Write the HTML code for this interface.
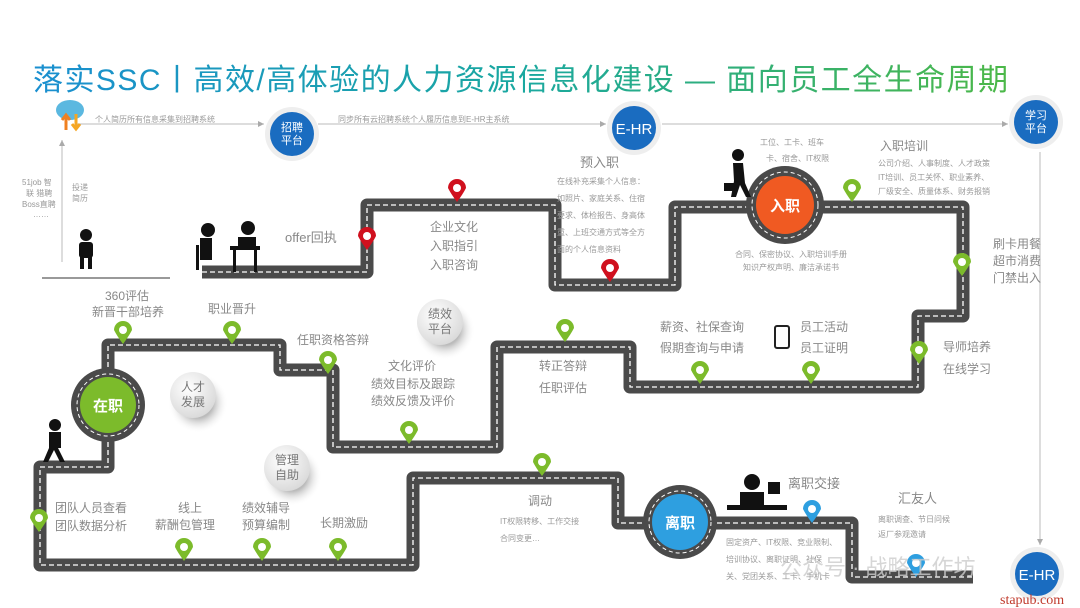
<!DOCTYPE html>
<html><head><meta charset="utf-8"><style>
body{margin:0;background:#fff;}
svg{display:block;font-family:"Liberation Sans","Noto Sans CJK SC",sans-serif;}
.t{fill:#888;font-size:12px;}
.s{fill:#999;font-size:8px;}
</style></head><body>
<svg width="1080" height="608" viewBox="0 0 1080 608">
<defs>
<linearGradient id="tg" x1="0" x2="1"><stop offset="0" stop-color="#1a8fd0"/><stop offset="0.5" stop-color="#1aa8a0"/><stop offset="1" stop-color="#4cb848"/></linearGradient>
<radialGradient id="gb" cx="0.4" cy="0.35" r="0.7"><stop offset="0" stop-color="#fff"/><stop offset="1" stop-color="#d8d8d8"/></radialGradient>
<radialGradient id="sh"><stop offset="0.5" stop-color="#bbb"/><stop offset="1" stop-color="#fff" stop-opacity="0"/></radialGradient>
<marker id="ar" markerWidth="8" markerHeight="8" refX="6" refY="3" orient="auto"><path d="M0,0L6,3L0,6z" fill="#aaa"/></marker>
<g id="pin"><path d="M-9,0A9,9 0 1 1 9,0Q6,6 0,14Q-6,6 -9,0z"/><circle r="4" fill="#fff"/></g>
</defs>
<text x="33" y="90" font-size="30" fill="url(#tg)" textLength="975">落实SSC丨高效/高体验的人力资源信息化建设 — 面向员工全生命周期</text>

<!-- top lines -->
<g stroke="#bbb" stroke-width="1" fill="none">
<line x1="75" y1="124" x2="264" y2="124" marker-end="url(#ar)"/>
<line x1="318" y1="124" x2="606" y2="124" marker-end="url(#ar)"/>
<line x1="662" y1="124" x2="1008" y2="124" marker-end="url(#ar)"/>
<line x1="1040" y1="152" x2="1040" y2="545" marker-end="url(#ar)"/>
<line x1="62" y1="262" x2="62" y2="140" marker-end="url(#ar)"/>
</g>
<line x1="42" y1="278" x2="170" y2="278" stroke="#999" stroke-width="2"/>
<!-- cloud -->
<ellipse cx="70" cy="110" rx="14" ry="10" fill="#5bb8e0"/>
<path d="M66,116v14M62,120l4,-5l4,5" stroke="#f08020" stroke-width="3" fill="none"/>
<path d="M76,114v14M72,124l4,5l4,-5" stroke="#f5a623" stroke-width="3" fill="none"/>
<text class="s" x="95" y="122">个人简历所有信息采集到招聘系统</text>
<text class="s" x="338" y="122">同步所有云招聘系统个人履历信息到E-HR主系统</text>
<text class="s" x="22" y="185">51job 智</text><text class="s" x="26" y="196">联 猎聘</text><text class="s" x="22" y="207">Boss直聘</text><text class="s" x="33" y="217">……</text>
<text class="s" x="72" y="190">投递</text><text class="s" x="72" y="201">简历</text>

<!-- roads -->
<g fill="none" stroke-linejoin="round" stroke-linecap="round">
<path id="r1" d="M202,272H367V205H555V285H675V207H963V316H918V387H630V347H497V447H333V370H280V345H108V467H40V565H413V478H618V523H852V577H973"/>
</g>
<use href="#r1" stroke="#4a4a4a" stroke-width="13" fill="none" stroke-linejoin="round"/>
<use href="#r1" stroke="#fff" stroke-width="1.3" stroke-dasharray="5 3" fill="none"/>

<!-- big circles -->
<g>
<circle cx="108" cy="405" r="37" fill="#4a4a4a"/><circle cx="108" cy="405" r="31" fill="none" stroke="#fff" stroke-width="1" stroke-dasharray="4 3"/><circle cx="108" cy="405" r="28" fill="#7cbb2b"/>
<text x="108" y="411" text-anchor="middle" fill="#fff" font-size="15" font-weight="bold">在职</text>
<circle cx="785" cy="205" r="39" fill="#4a4a4a"/><circle cx="785" cy="205" r="33" fill="none" stroke="#fff" stroke-width="1" stroke-dasharray="4 3"/><circle cx="785" cy="205" r="29" fill="#f05a22"/>
<text x="785" y="211" text-anchor="middle" fill="#fff" font-size="15" font-weight="bold">入职</text>
<circle cx="680" cy="522" r="37" fill="#4a4a4a"/><circle cx="680" cy="522" r="31" fill="none" stroke="#fff" stroke-width="1" stroke-dasharray="4 3"/><circle cx="680" cy="522" r="28" fill="#2e9fe0"/>
<text x="680" y="528" text-anchor="middle" fill="#fff" font-size="15" font-weight="bold">离职</text>
</g>
<!-- blue platform circles -->
<g font-size="11" fill="#fff" text-anchor="middle">
<circle cx="292" cy="134" r="27" fill="#eee"/><circle cx="292" cy="134" r="22" fill="#1a6cc0"/><text x="292" y="131">招聘</text><text x="292" y="144">平台</text>
<circle cx="634" cy="128" r="27" fill="#eee"/><circle cx="634" cy="128" r="22" fill="#1a6cc0"/><text x="634" y="134" font-size="15">E-HR</text>
<circle cx="1036" cy="122" r="27" fill="#eee"/><circle cx="1036" cy="122" r="22" fill="#1a6cc0"/><text x="1036" y="119">学习</text><text x="1036" y="132">平台</text>
<circle cx="1037" cy="574" r="27" fill="#eee"/><circle cx="1037" cy="574" r="22" fill="#1a6cc0"/><text x="1037" y="580" font-size="15">E-HR</text>
</g>
<!-- gray balls -->
<g font-size="12" fill="#777" text-anchor="middle">
<circle cx="445" cy="330" r="30" fill="url(#sh)"/><circle cx="440" cy="322" r="23" fill="url(#gb)"/><text x="440" y="318">绩效</text><text x="440" y="333">平台</text>
<circle cx="198" cy="403" r="30" fill="url(#sh)"/><circle cx="193" cy="395" r="23" fill="url(#gb)"/><text x="193" y="391">人才</text><text x="193" y="406">发展</text>
<circle cx="292" cy="476" r="30" fill="url(#sh)"/><circle cx="287" cy="468" r="23" fill="url(#gb)"/><text x="287" y="464">管理</text><text x="287" y="479">自助</text>
</g>

<!-- pins -->
<g fill="#d0101e">
<use href="#pin" x="367" y="236"/><use href="#pin" x="457" y="188"/><use href="#pin" x="610" y="268"/>
</g>
<g fill="#7cbb2b">
<use href="#pin" x="123" y="330"/><use href="#pin" x="232" y="330"/><use href="#pin" x="328" y="360"/><use href="#pin" x="409" y="430"/>
<use href="#pin" x="565" y="328"/><use href="#pin" x="700" y="370"/><use href="#pin" x="811" y="370"/><use href="#pin" x="919" y="350"/>
<use href="#pin" x="962" y="262"/><use href="#pin" x="852" y="188"/><use href="#pin" x="542" y="462"/>
<use href="#pin" x="39" y="518"/><use href="#pin" x="184" y="547"/><use href="#pin" x="262" y="547"/><use href="#pin" x="338" y="547"/>
</g>
<g fill="#2e9fe0"><use href="#pin" x="812" y="509"/><use href="#pin" x="916" y="563"/></g>

<!-- people silhouettes -->
<g fill="#111">
<circle cx="86" cy="235" r="6"/><rect x="79" y="242" width="14" height="16" rx="3"/><rect x="80" y="256" width="4" height="13"/><rect x="88" y="256" width="4" height="13"/>
<circle cx="208" cy="230" r="7"/><rect x="200" y="238" width="12" height="22"/><rect x="196" y="245" width="3" height="25"/>
<circle cx="248" cy="228" r="7"/><rect x="238" y="237" width="18" height="10"/><rect x="230" y="246" width="30" height="4"/><rect x="233" y="250" width="3" height="22"/><rect x="254" y="250" width="3" height="22"/>
<circle cx="55" cy="425" r="6"/><rect x="49" y="432" width="12" height="16"/><path d="M49,448l-6,14h5l6,-12l6,12h5l-7,-14z"/>
<circle cx="738" cy="155" r="6"/><path d="M733,163h10l2,20l6,14h-5l-6,-12l-4,12h-5l3,-16z"/><rect x="724" y="183" width="12" height="8"/>
<circle cx="752" cy="482" r="8"/><path d="M740,492h24v18h-24z"/><rect x="727" y="505" width="60" height="5"/><rect x="768" y="482" width="12" height="12"/>
<rect x="775" y="326" width="14" height="22" rx="2" fill="none" stroke="#222" stroke-width="2"/>
</g>

<!-- labels -->
<g class="t">
<text x="285" y="242" font-size="13">offer回执</text>
<text x="430" y="231">企业文化</text><text x="430" y="250">入职指引</text><text x="430" y="269">入职咨询</text>
<text x="580" y="167" font-size="13">预入职</text>
<text class="s" x="557" y="184">在线补充采集个人信息：</text><text class="s" x="557" y="201">如照片、家庭关系、住宿</text><text class="s" x="557" y="218">要求、体检报告、身高体</text><text class="s" x="557" y="235">重、上班交通方式等全方</text><text class="s" x="557" y="252">面的个人信息资料</text>
<text class="s" x="760" y="145">工位、工卡、班车</text><text class="s" x="766" y="161">卡、宿舍、IT权限</text>
<text x="880" y="150">入职培训</text>
<text class="s" x="878" y="166">公司介绍、人事制度、人才政策</text><text class="s" x="878" y="180">IT培训、员工关怀、职业素养、</text><text class="s" x="878" y="194">厂级安全、质量体系、财务报销</text>
<text class="s" x="735" y="257">合同、保密协议、入职培训手册</text><text class="s" x="743" y="270">知识产权声明、廉洁承诺书</text>
<text x="993" y="248">刷卡用餐</text><text x="993" y="265">超市消费</text><text x="993" y="282">门禁出入</text>
<text x="105" y="300">360评估</text><text x="92" y="316">新晋干部培养</text>
<text x="208" y="313">职业晋升</text>
<text x="297" y="344">任职资格答辩</text>
<text x="388" y="370">文化评价</text><text x="371" y="388">绩效目标及跟踪</text><text x="371" y="405">绩效反馈及评价</text>
<text x="539" y="370">转正答辩</text><text x="539" y="392">任职评估</text>
<text x="660" y="331">薪资、社保查询</text><text x="660" y="352">假期查询与申请</text>
<text x="800" y="331">员工活动</text><text x="800" y="352">员工证明</text>
<text x="943" y="351">导师培养</text><text x="943" y="373">在线学习</text>
<text x="55" y="512">团队人员查看</text><text x="55" y="530">团队数据分析</text>
<text x="178" y="512">线上</text><text x="155" y="529">薪酬包管理</text>
<text x="242" y="512">绩效辅导</text><text x="242" y="529">预算编制</text>
<text x="320" y="527">长期激励</text>
<text x="528" y="505">调动</text>
<text class="s" x="500" y="524">IT权限转移、工作交接</text><text class="s" x="500" y="541">合同变更…</text>
<text x="788" y="488" font-size="13">离职交接</text>
<text x="898" y="503" font-size="13">汇友人</text>
<text class="s" x="878" y="522">离职调查、节日问候</text><text class="s" x="878" y="537">返厂参观邀请</text>
<text class="s" x="726" y="545">固定资产、IT权限、竞业限制、</text><text class="s" x="726" y="562">培训协议、离职证明、社保</text><text class="s" x="726" y="579">关、党团关系、工卡、手机卡</text>
</g>
<text x="780" y="575" font-size="22" fill="#ccc" opacity="0.8">公众号 · 战略工作坊</text>
<text x="1000" y="604" font-size="14" fill="#c0392b" font-family="Liberation Serif,serif">stapub.com</text>
</svg>
</body></html>
